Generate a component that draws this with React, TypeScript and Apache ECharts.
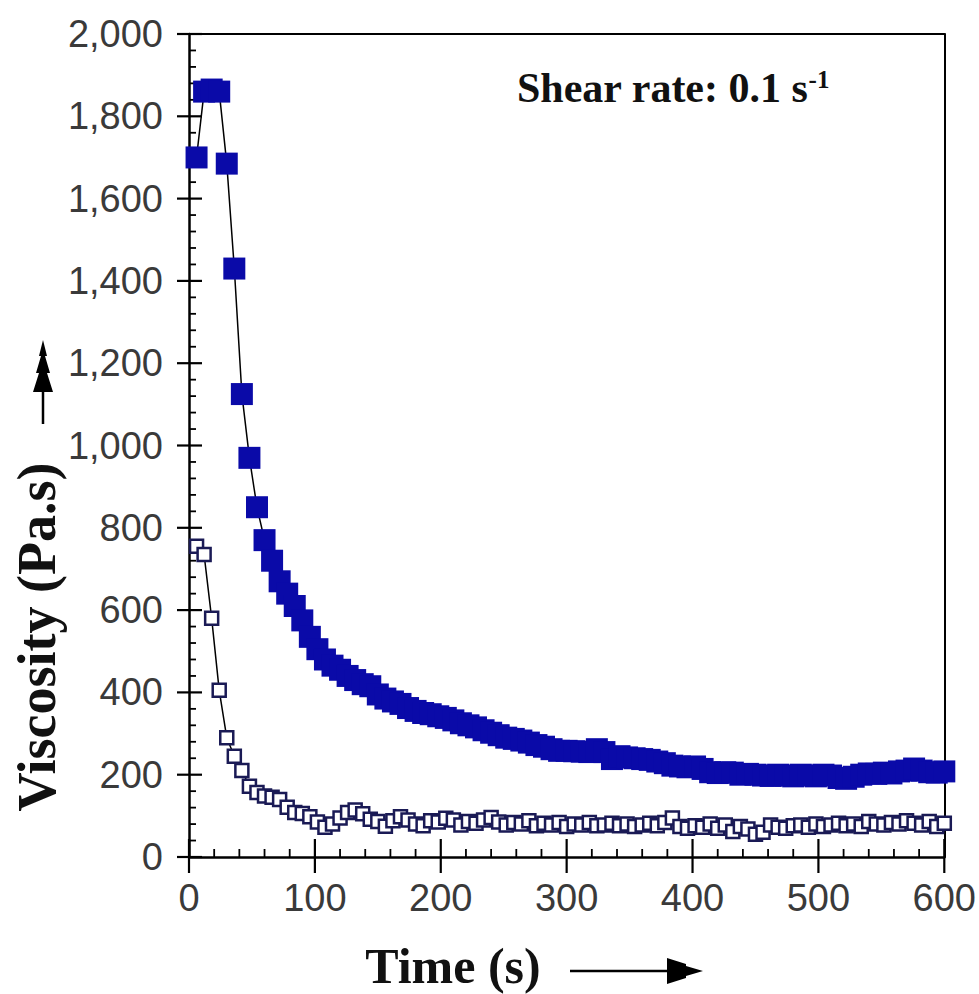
import React, { useEffect, useRef } from "react";
import * as echarts from "echarts";

const times = [
  6, 12, 18, 24, 30, 36, 42, 48, 54, 60, 66, 72, 78, 84, 90, 96, 102, 108, 114, 120,
  126, 132, 138, 144, 150, 156, 162, 168, 174, 180, 186, 192, 198, 204, 210, 216, 222, 228, 234, 240,
  246, 252, 258, 264, 270, 276, 282, 288, 294, 300, 306, 312, 318, 324, 330, 336, 342, 348, 354, 360,
  366, 372, 378, 384, 390, 396, 402, 408, 414, 420, 426, 432, 438, 444, 450, 456, 462, 468, 474, 480,
  486, 492, 498, 504, 510, 516, 522, 528, 534, 540, 546, 552, 558, 564, 570, 576, 582, 588, 594, 600,
];

const filledViscosity = [
  1700, 1860, 1865, 1860, 1685, 1430, 1125, 970, 850, 770, 720, 670, 640, 610, 575, 535, 505, 480, 465, 455,
  440, 430, 420, 415, 395, 385, 378, 372, 362, 355, 350, 347, 342, 338, 332, 325, 320, 315, 308, 302,
  296, 290, 287, 283, 278, 272, 268, 262, 258, 258, 257, 256, 255, 262, 255, 238, 245, 242, 240, 238,
  236, 232, 228, 222, 220, 218, 220, 214, 206, 204, 206, 205, 200, 202, 200, 198, 197, 200, 198, 196,
  200, 198, 196, 200, 198, 192, 190, 195, 200, 203, 202, 205, 203, 208, 210, 215, 210, 206, 205, 208,
];

const hollowViscosity = [
  755, 735, 580, 405, 290, 245, 210, 172, 157, 148, 145, 140, 121, 108, 106, 98, 85, 72, 80, 95,
  108, 114, 105, 92, 86, 75, 88, 98, 90, 80, 76, 88, 85, 94, 90, 78, 86, 82, 90, 96,
  85, 78, 84, 80, 88, 76, 82, 78, 84, 74, 80, 78, 84, 76, 78, 82, 76, 80, 74, 78,
  82, 76, 84, 95, 74, 70, 76, 72, 80, 70, 78, 62, 74, 68, 55, 60, 78, 72, 70, 76,
  78, 72, 80, 74, 78, 82, 76, 80, 74, 86, 80, 78, 84, 80, 88, 82, 78, 86, 74, 82,
];

const xTicks = [0, 100, 200, 300, 400, 500, 600];
const yTicks = [0, 200, 400, 600, 800, 1000, 1200, 1400, 1600, 1800, 2000];
const minorDivisions = 5;

const xTitle = "Time (s)";
const yTitle = "Viscosity (Pa.s)";
const noteMain = "Shear rate: 0.1 s";
const noteSup = "-1";

function tickMarks(ticks: number[]): [number, number][] {
  const out: [number, number][] = [];
  ticks.forEach((t, i) => {
    out.push([t, 0]);
    if (i < ticks.length - 1) {
      const step = (ticks[i + 1] - t) / minorDivisions;
      for (let k = 1; k < minorDivisions; k++) out.push([t + k * step, 1]);
    }
  });
  return out;
}

export default function App() {
  const ref = useRef<HTMLDivElement>(null);

  useEffect(() => {
    if (!ref.current) return;
    const chart = echarts.init(ref.current, undefined, { renderer: "svg" });

    const labelFont = "'Liberation Sans', Arial, sans-serif";
    const serif = "'Liberation Serif', 'Times New Roman', serif";
    const xRange = { type: "value" as const, min: xTicks[0], max: xTicks[xTicks.length - 1], interval: 100 };
    const yRange = { type: "value" as const, min: yTicks[0], max: yTicks[yTicks.length - 1], interval: 200 };
    const frameOnly = {
      splitLine: { show: false },
      axisTick: { show: false },
      minorTick: { show: false },
      axisLabel: { show: false },
      axisLine: { show: true, onZero: false, lineStyle: { color: "#000", width: 2 } },
    };
    const xMarks = tickMarks(xTicks);
    const yMarks = tickMarks(yTicks);

    chart.setOption({
      animation: false,
      backgroundColor: "#ffffff",
      grid: { left: 189, top: 34, right: 33, bottom: 137, show: false },
      xAxis: [
        {
          ...xRange,
          position: "bottom",
          splitLine: { show: false },
          axisLine: { show: true, onZero: false, lineStyle: { color: "#000", width: 2.5 } },
          axisTick: { show: false },
          axisLabel: {
            show: true,
            margin: 22,
            color: "#3a3a3a",
            fontSize: 38,
            fontFamily: labelFont,
            showMinLabel: true,
            showMaxLabel: true,
          },
        },
        { ...xRange, position: "top", ...frameOnly },
      ],
      yAxis: [
        {
          ...yRange,
          position: "left",
          splitLine: { show: false },
          axisLine: { show: true, onZero: false, lineStyle: { color: "#000", width: 2.5 } },
          axisTick: { show: false },
          axisLabel: {
            show: true,
            margin: 26,
            color: "#3a3a3a",
            fontSize: 38,
            fontFamily: labelFont,
            formatter: (v: number) => v.toLocaleString("en-US"),
          },
        },
        { ...yRange, position: "right", ...frameOnly },
      ],
      series: [
        {
          type: "custom",
          name: "xTickMarks",
          silent: true,
          clip: false,
          xAxisIndex: 0,
          yAxisIndex: 0,
          data: xMarks.map(([v, kind]) => [v, yTicks[0], kind]),
          renderItem: (_params: any, api: any) => {
            const p = api.coord([api.value(0), api.value(1)]);
            const minor = api.value(2) === 1;
            return {
              type: "line",
              shape: minor
                ? { x1: p[0], y1: p[1], x2: p[0], y2: p[1] - 8 }
                : { x1: p[0], y1: p[1] + 16, x2: p[0], y2: p[1] - 18 },
              style: { stroke: "#000", lineWidth: minor ? 1.8 : 2.2 },
            };
          },
          z: 2,
        },
        {
          type: "custom",
          name: "yTickMarks",
          silent: true,
          clip: false,
          xAxisIndex: 0,
          yAxisIndex: 0,
          data: yMarks.map(([v, kind]) => [xTicks[0], v, kind]),
          renderItem: (_params: any, api: any) => {
            const p = api.coord([api.value(0), api.value(1)]);
            const minor = api.value(2) === 1;
            return {
              type: "line",
              shape: minor
                ? { x1: p[0], y1: p[1], x2: p[0] + 7, y2: p[1] }
                : { x1: p[0] - 12, y1: p[1], x2: p[0] + 13, y2: p[1] },
              style: { stroke: "#000", lineWidth: minor ? 1.8 : 2.2 },
            };
          },
          z: 2,
        },
        {
          type: "line",
          data: times.map((t, i) => [t, hollowViscosity[i]]),
          symbol: "rect",
          symbolSize: 13,
          showAllSymbol: true,
          clip: false,
          lineStyle: { color: "#000", width: 1.5 },
          itemStyle: { color: "#ffffff", borderColor: "#1a1a55", borderWidth: 2.5 },
          z: 3,
        },
        {
          type: "line",
          data: times.map((t, i) => [t, filledViscosity[i]]),
          symbol: "rect",
          symbolSize: 22,
          showAllSymbol: true,
          clip: false,
          lineStyle: { color: "#000", width: 1.5 },
          itemStyle: { color: "#0a0aa8", borderColor: "#0a0aa8", borderWidth: 0 },
          z: 4,
        },
      ],
      graphic: [
        {
          type: "text",
          x: 37,
          y: 637,
          rotation: Math.PI / 2,
          style: {
            text: yTitle,
            fill: "#111",
            font: `bold 54px ${serif}`,
            textAlign: "center",
            textVerticalAlign: "middle",
          },
        },
        {
          type: "line",
          shape: { x1: 43, y1: 424, x2: 43, y2: 380 },
          style: { stroke: "#000", lineWidth: 2.5 },
        },
        {
          type: "polygon",
          shape: {
            points: [
              [43, 340],
              [39, 356],
              [41, 356],
              [36, 373],
              [39, 373],
              [33, 392],
              [53, 392],
              [47, 373],
              [50, 373],
              [45, 356],
              [47, 356],
            ],
          },
          style: { fill: "#000" },
        },
        {
          type: "text",
          x: 453,
          y: 966,
          style: {
            text: xTitle,
            fill: "#111",
            font: `bold 50px ${serif}`,
            textAlign: "center",
            textVerticalAlign: "middle",
          },
        },
        {
          type: "line",
          shape: { x1: 570, y1: 971, x2: 680, y2: 971 },
          style: { stroke: "#000", lineWidth: 2.5 },
        },
        {
          type: "polygon",
          shape: {
            points: [
              [703, 971],
              [686, 966],
              [686, 964],
              [667, 958],
              [667, 984],
              [686, 978],
              [686, 976],
            ],
          },
          style: { fill: "#000" },
        },
        {
          type: "text",
          x: 517,
          y: 88,
          style: {
            text: `{m|${noteMain}}{s|${noteSup}}`,
            textVerticalAlign: "middle",
            rich: {
              m: { fontSize: 42, fontWeight: "bold", fontFamily: serif, fill: "#111" },
              s: {
                fontSize: 25,
                fontWeight: "bold",
                fontFamily: serif,
                fill: "#111",
                verticalAlign: "top",
                padding: [0, 0, 18, 0],
              },
            },
          },
        },
      ],
    });

    return () => chart.dispose();
  }, []);

  return (
    <div
      ref={ref}
      style={{ position: "fixed", left: 0, top: 0, width: 979, height: 994, background: "#fff" }}
    />
  );
}
